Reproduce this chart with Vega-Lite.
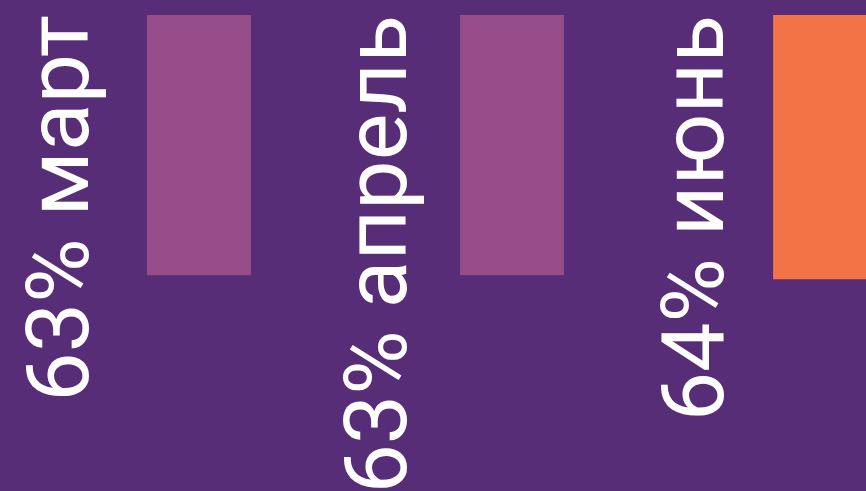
{
  "$schema": "https://vega.github.io/schema/vega-lite/v6.json",
  "width": 866,
  "height": 413,
  "autosize": {"type": "none"},
  "padding": {"left": 0, "right": 0, "top": 15, "bottom": 63},
  "background": "#572d77",
  "config": {"view": {"stroke": null}},
  "data": {
    "values": [
      {"month": "март", "value": 63, "label": "63% март", "highlight": "no"},
      {"month": "апрель", "value": 63, "label": "63% апрель", "highlight": "no"},
      {"month": "июнь", "value": 64, "label": "64% июнь", "highlight": "yes"}
    ]
  },
  "layer": [
    {
      "mark": {"type": "bar", "clip": true},
      "encoding": {
        "x": {"field": "month", "type": "nominal", "sort": null, "axis": null,
              "scale": {"range": [147, 877], "paddingInner": 0.668, "paddingOuter": 0}},
        "y": {"field": "value", "type": "quantitative", "axis": null,
              "scale": {"domain": [0, 100], "reverse": true}},
        "color": {"field": "highlight", "type": "nominal", "legend": null,
                  "scale": {"domain": ["no", "yes"], "range": ["#954c88", "#f27346"]}}
      }
    },
    {
      "mark": {"type": "text", "angle": 270, "align": "right", "baseline": "alphabetic",
               "font": "Roboto", "fontSize": 88, "color": "#ffffff"},
      "encoding": {
        "x": {"field": "month", "type": "nominal", "sort": null, "axis": null,
              "scale": {"type": "point", "range": [88, 723], "padding": 0}},
        "y": {"datum": 0, "type": "quantitative"},
        "text": {"field": "label", "type": "nominal"}
      }
    }
  ],
  "resolve": {"scale": {"x": "independent"}}
}
